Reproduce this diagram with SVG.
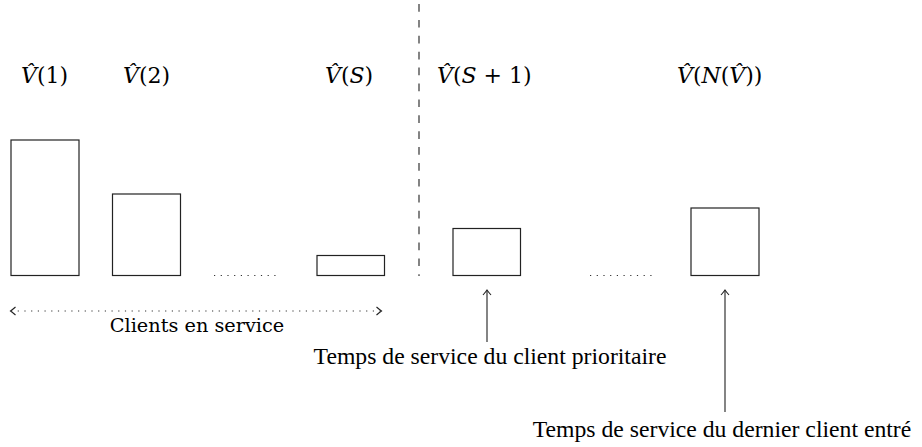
<svg xmlns="http://www.w3.org/2000/svg" width="922" height="447" viewBox="0 0 922 447">
<style>
.box{fill:none;stroke:#222;stroke-width:1.2}
.dot{stroke:#333;stroke-width:1.2;stroke-dasharray:1.2 5.5;fill:none}
.arr{stroke:#333;stroke-width:1.2;fill:none}
.it{font-style:italic}
</style>
<defs>
<marker id="tip" viewBox="-6 -6 8 12" markerWidth="8" markerHeight="12" refX="0" refY="0" orient="auto-start-reverse" markerUnits="userSpaceOnUse">
<path d="M-4.5,-4 Q-1,-1 0.5,0 Q-1,1 -4.5,4" fill="none" stroke="#222" stroke-width="1.1"/>
</marker>
</defs>
<g id="labels" font-size="22" font-family="DejaVu Serif, serif">
<text id="v1" x="21" y="83" font-family="DejaVu Serif, serif"><tspan class="it">V̂</tspan>(1)</text>
<text id="v2" x="123" y="83" font-family="DejaVu Serif, serif"><tspan class="it">V̂</tspan>(2)</text>
<text id="vS" x="325" y="83" font-family="DejaVu Serif, serif"><tspan class="it">V̂</tspan>(<tspan class="it">S</tspan>)</text>
<text id="vS1" x="437" y="83" font-family="DejaVu Serif, serif"><tspan class="it">V̂</tspan>(<tspan class="it">S</tspan> + 1)</text>
<text id="vN" x="677" y="83" font-family="DejaVu Serif, serif"><tspan class="it">V̂</tspan>(<tspan class="it">N</tspan>(<tspan class="it">V̂</tspan>))</text>
</g>
<g id="bars">
<rect id="b1" class="box" x="11" y="140" width="68" height="135.5"/>
<rect id="b2" class="box" x="112.5" y="194" width="68" height="81.5"/>
<rect id="b3" class="box" x="317" y="255.5" width="67.5" height="20"/>
<rect id="b4" class="box" x="453" y="228.5" width="67.5" height="47"/>
<rect id="b5" class="box" x="691" y="208" width="68" height="67.5"/>
</g>
<g id="connectors">
<line class="dot" x1="214" y1="275.5" x2="281" y2="275.5"/>
<line class="dot" x1="590" y1="275.5" x2="655" y2="275.5"/>
<line x1="419" y1="4" x2="419" y2="276" stroke="#333" stroke-width="1.2" stroke-dasharray="7.7 8.2"/>
<line class="dot" x1="11" y1="311" x2="381" y2="311" marker-start="url(#tip)" marker-end="url(#tip)"/>
<line class="arr" x1="487" y1="342" x2="487" y2="290.5" marker-end="url(#tip)"/>
<line class="arr" x1="725" y1="412" x2="725" y2="290.5" marker-end="url(#tip)"/>
</g>
<g id="texts" font-size="23.7" text-anchor="middle" font-family="Liberation Serif, serif">
<text x="197" y="332" font-family="DejaVu Serif, serif" font-size="19.3">Clients en service</text>
<text x="490" y="364">Temps de service du client prioritaire</text>
<text x="722" y="437">Temps de service du dernier client entré</text>
</g>
</svg>
